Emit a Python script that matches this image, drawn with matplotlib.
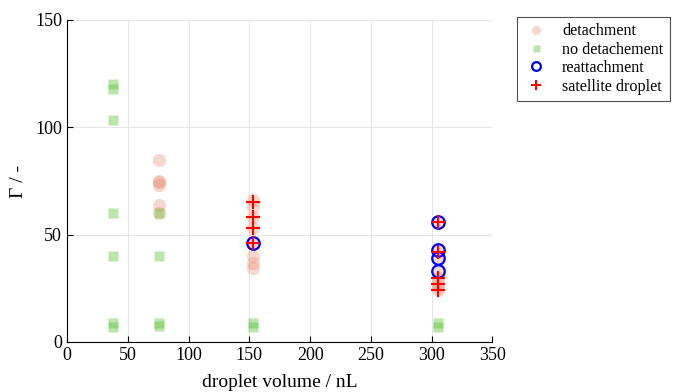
import matplotlib.pyplot as plt

plt.rcParams['font.family'] = ['Liberation Serif', 'DejaVu Serif']

# no detachment (green squares)
nodet_x = [38, 38, 38, 38, 38, 38, 38, 76, 76, 76, 76, 153, 153, 305, 305]
nodet_y = [120, 118, 103.5, 60, 40, 9, 7, 60, 40, 9, 7.5, 9, 7, 9, 7]

# detachment (salmon circles)
det_x = [76, 76, 76, 76, 76, 76,
         153, 153, 153, 153, 153, 153, 153, 153,
         305, 305, 305, 305, 305, 305, 305, 305]
det_y = [85, 75, 74.5, 73, 64, 60,
         66, 63, 58, 53, 46, 40, 37, 34.5,
         56, 43, 39, 33, 30, 27.5, 25.5, 24]

# reattachment (blue open circles)
reat_x = [153, 305, 305, 305, 305]
reat_y = [46, 56, 43, 39, 33]

# satellite droplet (red plus)
sat_x = [153, 153, 153, 153, 305, 305, 305, 305, 305]
sat_y = [65, 58, 53, 46, 56, 42, 30, 27, 24]

fig = plt.figure(figsize=(6.75, 3.92), dpi=100)
ax = fig.add_axes([0.0993, 0.1276, 0.6303, 0.8214])

ax.plot(det_x, det_y, 'o', ms=9.5, color='#e8896c', alpha=0.33, mec='none',
        label='detachment')
ax.plot(nodet_x, nodet_y, 's', ms=7.2, color='#5cc43a', alpha=0.42, mec='none',
        label='no detachement')
ax.plot(reat_x, reat_y, 'o', ms=9, mfc='none', mec='#0000ff', mew=1.6,
        label='reattachment')
ax.plot(sat_x, sat_y, '+', ms=10, color='#ff0000', mew=1.5,
        label='satellite droplet')

ax.set_xlim(0, 350)
ax.set_ylim(0, 150)
ax.set_xticks(range(0, 351, 50))
ax.set_yticks([0, 50, 100, 150])
ax.grid(True, color='#e6e6e6', lw=0.8)
ax.set_axisbelow(True)
ax.spines['top'].set_visible(False)
ax.spines['right'].set_visible(False)
ax.tick_params(direction='in', labelsize=13, length=4)
ax.set_xlabel('droplet volume / nL', fontsize=14, labelpad=7)
ax.set_ylabel('Γ / -', fontsize=14, labelpad=6)

leg = ax.legend(loc='upper left', bbox_to_anchor=(0.766, 0.957),
                bbox_transform=fig.transFigure, fontsize=11.6, frameon=True,
                fancybox=False, edgecolor='#262626', markerscale=0.7,
                handletextpad=0.8, borderpad=0.4, labelspacing=0.15,
                handlelength=1.6, borderaxespad=0)
leg.get_frame().set_linewidth(0.8)

fig.savefig('out.png', dpi=100)
